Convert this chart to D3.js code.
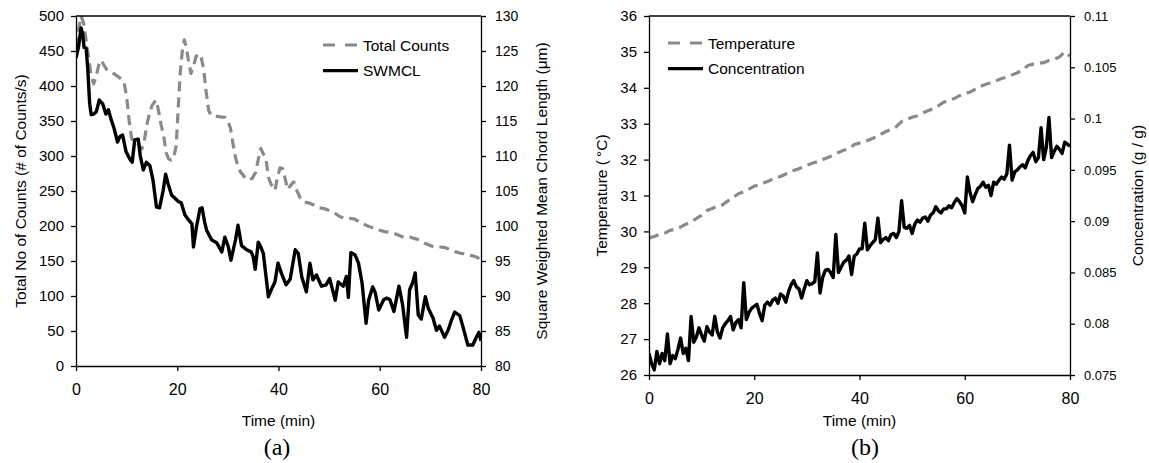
<!DOCTYPE html>
<html>
<head>
<meta charset="utf-8">
<script src="https://cdn.jsdelivr.net/npm/d3@7/dist/d3.min.js"></script>
<style>
  html, body { margin: 0; padding: 0; background: #fff; }
  svg { display: block; }
  text { font-family: "Liberation Sans", Arial, sans-serif; fill: #000; }
</style>
</head>
<body>
<svg id="chart" width="1149" height="463"></svg>
<script>
// ---- (a) particle counts and square-weighted mean chord length ----
const countTime = [0, 0.5, 1, 1.5, 2, 2.5, 3, 3.5, 4, 4.5, 5, 5.5, 6, 7, 8, 9, 9.5, 10, 10.5, 11, 11.5, 12, 12.5, 13, 13.5, 14, 14.5, 15, 15.8, 16.3, 16.8, 17.3, 17.8, 18.3, 18.8, 19.3, 19.8, 20.2, 20.6, 21, 21.4, 21.8, 22.2, 22.7, 23.2, 23.7, 24.2, 24.7, 25.2, 25.7, 26.2, 26.7, 27.5, 28.5, 29.5, 30, 30.5, 31, 31.5, 32, 32.5, 33, 33.5, 34.2, 34.8, 35.5, 36, 36.5, 37, 37.5, 38, 38.5, 39.3, 39.8, 40.3, 40.8, 41.3, 41.8, 42.4, 43, 43.6, 44.3, 45, 46, 47, 48, 49, 50, 51, 52, 53, 54, 55, 56, 57, 58, 59, 60, 61, 62, 63, 64, 65, 66, 67, 68, 69, 70, 71, 72, 73, 74, 75, 76, 77, 78, 79, 80];
const totalCounts = [455, 480, 500, 490, 465, 440, 415, 403, 415, 430, 437, 430, 424, 420, 415, 410, 405, 385, 350, 325, 320, 320, 315, 310, 322, 345, 360, 372, 380, 365, 345, 330, 305, 296, 294, 298, 315, 370, 420, 450, 466, 455, 437, 418, 428, 442, 446, 442, 425, 392, 365, 358, 357, 356, 355, 350, 340, 318, 298, 285, 277, 273, 267, 266, 268, 277, 295, 311, 303, 297, 270, 260, 251, 270, 283, 282, 268, 252, 258, 263, 251, 240, 234, 233, 230, 226, 225, 222, 219, 214, 211, 211, 210, 206, 202, 199, 197, 194, 192, 191, 189, 186, 183, 184, 182, 180, 175, 172, 170, 170, 169, 166, 163, 161, 160, 158, 156, 152];

const swmclTime = [0, 0.5, 1, 1.3, 1.6, 2, 2.3, 2.7, 3, 3.5, 4, 4.6, 5.3, 5.9, 6.4, 6.9, 7.5, 8.2, 8.7, 9.2, 9.9, 10.6, 11.1, 11.6, 12.3, 12.7, 13.3, 13.9, 14.6, 15.2, 15.9, 16.5, 17.2, 17.7, 18.2, 18.9, 19.5, 20.2, 20.8, 21.5, 22.2, 22.9, 23.2, 23.8, 24.5, 24.9, 25.4, 25.8, 26.8, 27.8, 28.8, 29.4, 30.1, 30.6, 31.5, 32, 32.7, 33.7, 34.6, 35, 35.4, 36, 36.5, 37, 37.5, 38, 38.7, 39.3, 39.9, 40.6, 41.5, 42.3, 43.3, 43.9, 44.6, 45.5, 46.2, 46.8, 47.5, 48.5, 49.4, 50.1, 51.2, 51.8, 52.8, 53.4, 53.8, 54.3, 55.1, 55.8, 56.5, 57.3, 57.8, 58.6, 59.1, 59.8, 60.8, 61.4, 62, 62.8, 63.8, 64.5, 65.3, 65.9, 66.5, 67, 67.6, 68.2, 69, 69.6, 70.5, 71.2, 71.8, 72.8, 73.5, 74.1, 74.8, 75.8, 76.4, 77.4, 78.4, 79, 79.6, 80];
const swmcl = [124.0, 125.6, 128.3, 127.5, 125.5, 125.4, 122.7, 117.5, 115.9, 116.0, 116.3, 118.0, 117.4, 116.0, 116.6, 115.3, 114.0, 112.0, 112.8, 113.0, 110.6, 109.6, 109.1, 112.3, 112.4, 110.0, 108.0, 109.1, 108.6, 106.6, 102.7, 102.6, 105.0, 107.4, 106.0, 104.4, 104.0, 103.5, 103.3, 101.6, 100.9, 100.3, 97.0, 99.9, 102.5, 102.6, 100.6, 99.4, 98.0, 97.6, 96.3, 98.4, 97.0, 95.1, 98.0, 100.1, 97.2, 96.6, 96.3, 95.6, 93.8, 97.7, 97.0, 96.1, 93.0, 89.9, 91.1, 92.0, 94.7, 93.2, 91.6, 92.4, 96.6, 96.1, 92.7, 90.6, 94.7, 92.3, 93.0, 91.4, 91.6, 92.5, 89.4, 92.0, 91.4, 92.8, 89.8, 96.2, 95.9, 94.7, 91.9, 86.1, 89.4, 91.3, 90.5, 88.0, 89.5, 89.7, 89.5, 87.8, 91.4, 88.8, 84.1, 90.9, 91.9, 93.3, 87.3, 86.7, 89.9, 88.2, 86.9, 85.1, 85.7, 84.1, 85.1, 86.4, 87.7, 87.2, 85.7, 83.0, 83.0, 84.0, 84.8, 83.6];

// ---- (b) solution temperature and concentration ----
const tempTime = [0, 1, 2, 3, 4, 5, 6, 7, 8, 9, 10, 11, 12, 13, 14, 15, 16, 17, 18, 19, 20, 21, 22, 23, 24, 25, 26, 27, 28, 29, 30, 31, 32, 33, 34, 35, 36, 37, 38, 39, 40, 41, 42, 43, 44, 45, 46, 47, 48, 49, 50, 51, 52, 53, 54, 55, 56, 57, 58, 59, 60, 61, 62, 63, 64, 65, 66, 67, 68, 69, 70, 71, 72, 73, 74, 75, 76, 77, 78, 79, 80];
const temperature = [29.82, 29.86, 29.92, 29.95, 30.03, 30.06, 30.12, 30.2, 30.26, 30.36, 30.45, 30.58, 30.64, 30.7, 30.74, 30.85, 30.95, 31.05, 31.1, 31.18, 31.26, 31.3, 31.36, 31.42, 31.5, 31.53, 31.6, 31.68, 31.72, 31.78, 31.84, 31.9, 31.94, 32.0, 32.06, 32.12, 32.2, 32.26, 32.3, 32.42, 32.46, 32.5, 32.56, 32.62, 32.7, 32.78, 32.84, 32.92, 33.06, 33.12, 33.18, 33.22, 33.3, 33.36, 33.42, 33.5, 33.6, 33.65, 33.7, 33.78, 33.84, 33.88, 33.96, 34.04, 34.1, 34.14, 34.2, 34.26, 34.3, 34.36, 34.42, 34.5, 34.62, 34.66, 34.68, 34.7, 34.76, 34.8, 34.86, 35.0, 34.88];

// concentration logged every half minute from t = 0
const concStep = 0.5;
const concentration = [
  0.0771, 0.0761, 0.0755, 0.0773, 0.0761, 0.0771, 0.0764, 0.0790, 0.0761, 0.0769,
  0.0766, 0.0775, 0.0786, 0.0771, 0.0776, 0.0764, 0.0807, 0.0782, 0.0787, 0.0796,
  0.0789, 0.0783, 0.0797, 0.0792, 0.0789, 0.0807, 0.0792, 0.0786, 0.0796, 0.0800,
  0.0803, 0.0807, 0.0794, 0.0801, 0.0804, 0.0796, 0.0840, 0.0804, 0.0811, 0.0815,
  0.0817, 0.0819, 0.0810, 0.0803, 0.0818, 0.0821, 0.0818, 0.0823, 0.0825, 0.0820,
  0.0829, 0.0827, 0.0821, 0.0831, 0.0838, 0.0842, 0.0836, 0.0834, 0.0825, 0.0834,
  0.0842, 0.0838, 0.0839, 0.0841, 0.0869, 0.0830, 0.0845, 0.0852, 0.0853, 0.0850,
  0.0845, 0.0887, 0.0850, 0.0855, 0.0860, 0.0862, 0.0866, 0.0848, 0.0866, 0.0868,
  0.0873, 0.0873, 0.0898, 0.0872, 0.0876, 0.0879, 0.0882, 0.0903, 0.0879, 0.0882,
  0.0884, 0.0881, 0.0887, 0.0888, 0.0884, 0.0890, 0.0920, 0.0894, 0.0893, 0.0896,
  0.0888, 0.0897, 0.0901, 0.0899, 0.0903, 0.0904, 0.0900, 0.0906, 0.0908, 0.0914,
  0.0910, 0.0908, 0.0912, 0.0912, 0.0915, 0.0913, 0.0918, 0.0922, 0.0919, 0.0915,
  0.0908, 0.0943, 0.0928, 0.0919, 0.0926, 0.0932, 0.0934, 0.0938, 0.0933, 0.0935,
  0.0925, 0.0938, 0.0936, 0.0940, 0.0943, 0.0941, 0.0946, 0.0974, 0.0940, 0.0948,
  0.0950, 0.0953, 0.0955, 0.0952, 0.0959, 0.0964, 0.0967, 0.0958, 0.0962, 0.0991,
  0.0960, 0.0972, 0.1001, 0.0962, 0.0968, 0.0973, 0.0970, 0.0966, 0.0977, 0.0975,
  0.0973
];

// ---- axis ticks ----
const timeTicks = [0, 20, 40, 60, 80];
const countTicks = [0, 50, 100, 150, 200, 250, 300, 350, 400, 450, 500];
const swmclTicks = [80, 85, 90, 95, 100, 105, 110, 115, 120, 125, 130];
const tempTicks = [26, 27, 28, 29, 30, 31, 32, 33, 34, 35, 36];
const concTicks = [0.075, 0.08, 0.085, 0.09, 0.095, 0.1, 0.105, 0.11];
const concTickLabels = ["0.075", "0.08", "0.085", "0.09", "0.095", "0.1", "0.105", "0.11"];

const GREY = "#8a8a8a";
const svg = d3.select("#chart");
svg.append("rect").attr("width", 1149).attr("height", 463).attr("fill", "#fff");

function drawPanel(cfg) {
  const g = svg.append("g");
  const x = d3.scaleLinear().domain([0, 80]).range([cfg.left, cfg.right]);
  const yL = d3.scaleLinear().domain(cfg.leftDomain).range([cfg.bottom, cfg.top]);
  const yR = d3.scaleLinear().domain(cfg.rightDomain).range([cfg.bottom, cfg.top]);

  const clipId = "clip-" + cfg.id;
  svg.append("defs").append("clipPath").attr("id", clipId)
    .append("rect").attr("x", cfg.left).attr("y", cfg.top - 2)
    .attr("width", cfg.right - cfg.left).attr("height", cfg.bottom - cfg.top + 2);

  // series
  const plot = g.append("g").attr("clip-path", `url(#${clipId})`);
  const dashed = d3.line().x(d => x(d[0])).y(d => yL(d[1]));
  const solid = d3.line().x(d => x(d[0])).y(d => yR(d[1]));
  plot.append("path")
    .datum(d3.zip(cfg.dashTime, cfg.dashValues))
    .attr("d", dashed)
    .attr("fill", "none").attr("stroke", GREY).attr("stroke-width", 3.2)
    .attr("stroke-dasharray", "10,6").attr("stroke-linejoin", "round");
  plot.append("path")
    .datum(d3.zip(cfg.solidTime, cfg.solidValues))
    .attr("d", solid)
    .attr("fill", "none").attr("stroke", "#000").attr("stroke-width", 3.4)
    .attr("stroke-linejoin", "round");

  // frame
  g.append("line").attr("x1", cfg.left).attr("x2", cfg.right)
    .attr("y1", cfg.top).attr("y2", cfg.top)
    .attr("stroke", "#000").attr("stroke-width", 1.3);

  const styleAxis = sel => {
    sel.select(".domain").attr("stroke", "#000").attr("stroke-width", 1.3);
    sel.selectAll(".tick line").attr("stroke", "#000").attr("stroke-width", 1.3);
    sel.selectAll("text").attr("font-family", "Liberation Sans, Arial, sans-serif").attr("fill", "#000");
  };

  g.append("g").attr("transform", `translate(0,${cfg.bottom})`)
    .call(d3.axisBottom(x).tickValues(timeTicks).tickSize(5).tickSizeOuter(0).tickPadding(13))
    .call(styleAxis)
    .selectAll("text").attr("font-size", 16);

  g.append("g").attr("transform", `translate(${cfg.left},0)`)
    .call(d3.axisLeft(yL).tickValues(cfg.leftTicks).tickSize(5).tickSizeOuter(0).tickPadding(7)
      .tickFormat(d3.format("d")))
    .call(styleAxis)
    .selectAll("text").attr("font-size", 15);

  g.append("g").attr("transform", `translate(${cfg.right},0)`)
    .call(d3.axisRight(yR).tickValues(cfg.rightTicks).tickSize(5).tickSizeOuter(0).tickPadding(9)
      .tickFormat(cfg.rightFormat))
    .call(styleAxis)
    .selectAll("text").attr("font-size", cfg.rightFont);

  // axis titles
  const midY = (cfg.top + cfg.bottom) / 2;
  g.append("text").attr("x", (cfg.left + cfg.right) / 2).attr("y", 426)
    .attr("text-anchor", "middle").attr("font-size", 15.5).text("Time (min)");
  g.append("text")
    .attr("transform", `translate(${cfg.leftTitleX},${midY}) rotate(-90)`)
    .attr("text-anchor", "middle").attr("dominant-baseline", "central")
    .attr("font-size", 15.5).text(cfg.leftTitle);
  g.append("text")
    .attr("transform", `translate(${cfg.rightTitleX},${midY}) rotate(-90)`)
    .attr("text-anchor", "middle").attr("dominant-baseline", "central")
    .attr("font-size", 15.5).text(cfg.rightTitle);

  // panel letter
  g.append("text").attr("x", cfg.letterX).attr("y", 455)
    .attr("text-anchor", "middle").attr("font-size", 24)
    .style("font-family", "'Liberation Serif', 'Times New Roman', serif")
    .text(cfg.letter);

  // legend
  const lg = g.append("g");
  cfg.legend.forEach((item, i) => {
    const ly = cfg.legendY + i * 25.7;
    lg.append("line").attr("x1", cfg.legendX).attr("x2", cfg.legendX + 35)
      .attr("y1", ly).attr("y2", ly)
      .attr("stroke", item.dashed ? GREY : "#000").attr("stroke-width", 3.2)
      .attr("stroke-dasharray", item.dashed ? "12,10" : null);
    lg.append("text").attr("x", cfg.legendX + 40).attr("y", ly)
      .attr("dominant-baseline", "central").attr("font-size", 15.5).text(item.label);
  });
}

drawPanel({
  id: "a", left: 76, right: 481, top: 16, bottom: 366,
  leftDomain: [0, 500], rightDomain: [80, 130],
  leftTicks: countTicks, rightTicks: swmclTicks,
  rightFormat: d3.format("d"), rightFont: 14,
  dashTime: countTime, dashValues: totalCounts,
  solidTime: swmclTime, solidValues: swmcl,
  leftTitle: "Total No of Counts (# of Counts/s)", leftTitleX: 20,
  rightTitle: "Square Weighted Mean Chord Length (\u03bcm)", rightTitleX: 541,
  letter: "(a)", letterX: 277,
  legendX: 323, legendY: 45,
  legend: [{ label: "Total Counts", dashed: true }, { label: "SWMCL", dashed: false }]
});

drawPanel({
  id: "b", left: 649, right: 1070, top: 16, bottom: 375,
  leftDomain: [26, 36], rightDomain: [0.075, 0.11],
  leftTicks: tempTicks, rightTicks: concTicks,
  rightFormat: (d, i) => concTickLabels[i], rightFont: 13,
  dashTime: tempTime, dashValues: temperature,
  solidTime: concentration.map((_, i) => i * concStep), solidValues: concentration,
  leftTitle: "Temperature (\u2009\u00b0C)", leftTitleX: 601,
  rightTitle: "Concentration (g / g)", rightTitleX: 1137,
  letter: "(b)", letterX: 865,
  legendX: 668, legendY: 43,
  legend: [{ label: "Temperature", dashed: true }, { label: "Concentration", dashed: false }]
});
</script>
</body>
</html>
